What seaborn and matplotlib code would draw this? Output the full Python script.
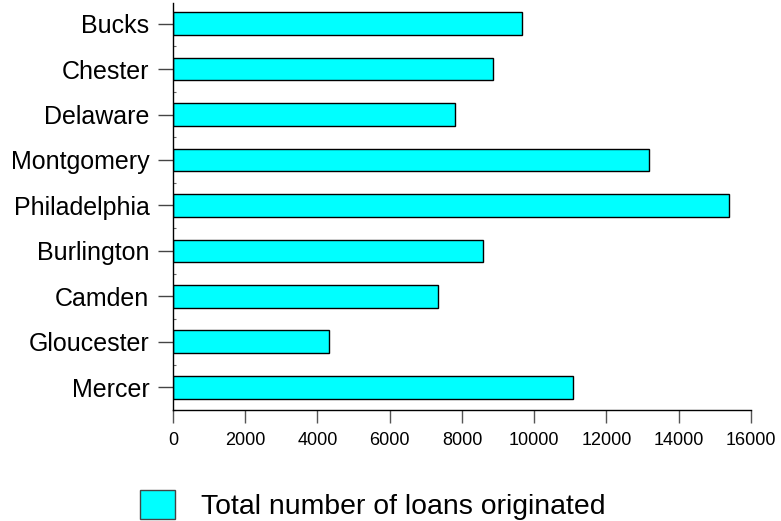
import matplotlib
matplotlib.use("Agg")
import matplotlib.pyplot as plt
from matplotlib.patches import Patch
from matplotlib.ticker import FixedLocator
import seaborn as sns
import pandas as pd

# data
counties = ['Bucks', 'Chester', 'Delaware', 'Montgomery', 'Philadelphia',
            'Burlington', 'Camden', 'Gloucester', 'Mercer']
loans = [9670, 8860, 7800, 13180, 15380, 8570, 7340, 4330, 11070]
xticks = [0, 2000, 4000, 6000, 8000, 10000, 12000, 14000, 16000]
legend_label = 'Total number of loans originated'

df = pd.DataFrame({'county': counties, 'loans': loans})

sns.set_style('ticks')
plt.rcParams['font.family'] = ['Liberation Sans', 'DejaVu Sans']

fig = plt.figure(figsize=(7.81, 5.21), dpi=100)
ax = fig.add_axes([0.2215, 0.213, 0.74, 0.781])

sns.barplot(data=df, x='loans', y='county', orient='h', color='#00ffff',
            saturation=1, edgecolor='black', linewidth=1.0, width=0.5, ax=ax)

ax.set_xlim(0, 16000)
ax.set_ylim(8.5, -0.45)
ax.set_xticks(xticks)
ax.set_xticklabels([str(t) for t in xticks])
# small ticks between the bars
ax.yaxis.set_minor_locator(FixedLocator([i + 0.5 for i in range(-1, len(counties))]))
ax.set_xlabel('')
ax.set_ylabel('')

sns.despine(ax=ax)
for s in ['left', 'bottom']:
    ax.spines[s].set_linewidth(1.0)
    ax.spines[s].set_color('black')

ax.tick_params(axis='y', which='major', length=11, width=1, color='#444444',
               pad=6, labelsize=18, labelcolor='black')
ax.tick_params(axis='y', which='minor', length=2, width=0.8, direction='in',
               color='#666666')
ax.tick_params(axis='x', length=9, width=1, color='#555555', pad=7,
               labelsize=13, labelcolor='black')

handle = Patch(facecolor='#00ffff', edgecolor='#444444', linewidth=1.0)
fig.legend(handles=[handle], labels=[legend_label], loc='center left',
           bbox_to_anchor=(0.179, 0.031), frameon=False, fontsize=20.4,
           labelcolor='black', handlelength=1.24, handleheight=1.24,
           handletextpad=0.93, borderpad=0, borderaxespad=0)

fig.savefig('out.png', dpi=100)
